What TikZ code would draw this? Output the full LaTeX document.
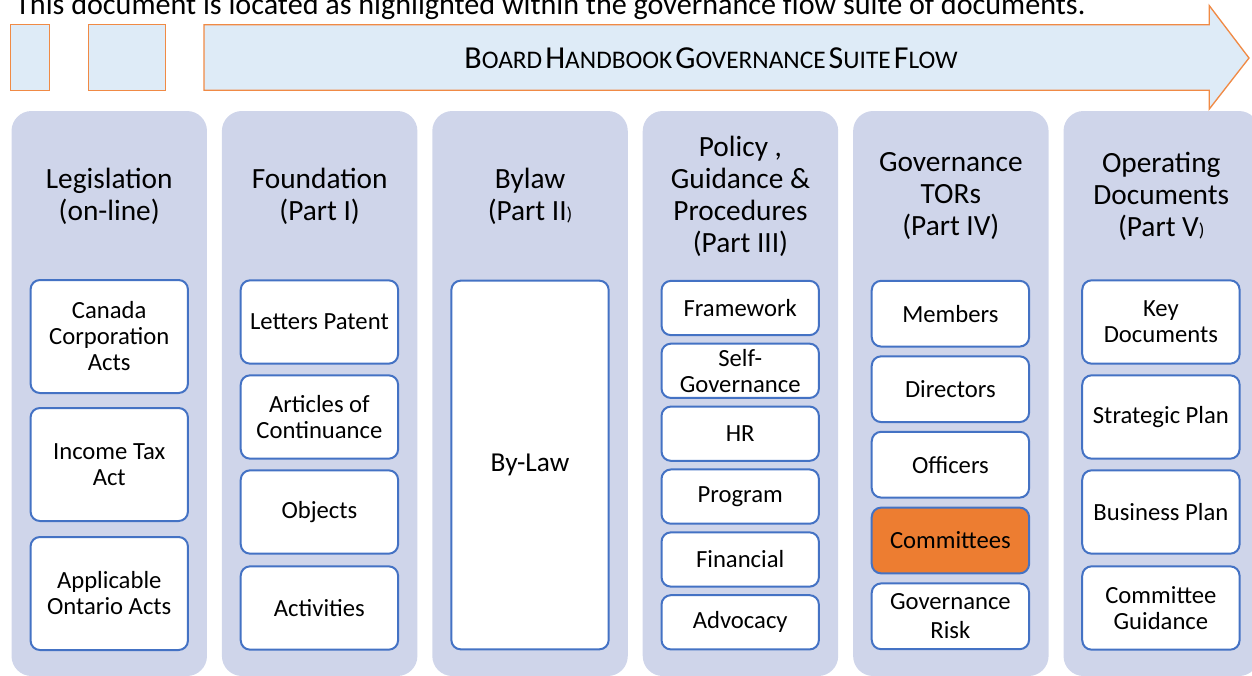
\documentclass[tikz,border=0pt]{standalone}
\usepackage{fontspec}
\setmainfont{Carlito}
\definecolor{colfill}{HTML}{CFD5EA}
\definecolor{itemblue}{HTML}{4472C4}
\definecolor{hiorange}{HTML}{ED7D31}
\definecolor{bannerfill}{HTML}{DEEBF7}
\definecolor{bannerline}{HTML}{F08A45}
\newcommand\fakesc[2]{{\fontsize{24}{28}\selectfont #1}{\fontsize{19}{28}\selectfont #2}}
\newcommand\smallparen{{\fontsize{14}{24}\selectfont )}}
\begin{document}
\begin{tikzpicture}[x=0.75pt,y=-0.75pt,
  colbg/.style={fill=colfill, draw=none, rounded corners=15pt, inner sep=0pt, minimum width=146.6pt, minimum height=423.75pt},
  hdr/.style={align=center, font=\fontsize{22}{24}\selectfont, inner sep=0pt},
  item/.style={draw=itemblue, line width=1.5pt, fill=white, rounded corners=7pt, align=center,
     font=\fontsize{18.5}{19.5}\selectfont, inner sep=0pt, minimum width=118pt},
  topbox/.style={fill=bannerfill, draw=bannerline, line width=1pt}
]
\useasboundingbox (0,0) rectangle (1252,675);

% intro text
\node[anchor=base west, inner sep=0pt, font=\fontsize{22.6}{26}\selectfont] (intro) at (15,14.5)
  {This document is located as highlighted within the governance flow suite of documents.};

% banner
\draw[topbox] (10.7,24.7) rectangle (49.7,90.3);
\draw[topbox] (88.3,24.7) rectangle (165.7,90.3);
\draw[topbox] (204,24.7) -- (1209.3,24.7) -- (1209.3,5.7) -- (1249,58) -- (1209.3,109) -- (1209.3,90.3) -- (204,90.3) -- cycle;
\node[inner sep=0pt] (banner) at (711,58)
  {\fakesc{B}{OARD} \fakesc{H}{ANDBOOK} \fakesc{G}{OVERNANCE} \fakesc{S}{UITE} \fakesc{F}{LOW}};

% columns
\node[colbg] (col1) at (109.25,393.5) {};
\node[colbg] (col2) at (319.65,393.5) {};
\node[colbg] (col3) at (530.05,393.5) {};
\node[colbg] (col4) at (740.45,393.5) {};
\node[colbg] (col5) at (950.85,393.5) {};
\node[colbg] (col6) at (1161.25,393.5) {};

% headers
\node[hdr] (h1) at (109.25,196) {Legislation\\(on-line)};
\node[hdr] (h2) at (319.65,196) {Foundation\\(Part I)};
\node[hdr] (h3) at (530.05,196) {Bylaw\\(Part II\smallparen};
\node[hdr] (h4) at (740.45,196.5) {Policy ,\\Guidance \&\\Procedures\\(Part III)};
\node[hdr] (h5) at (950.85,196) {Governance\\TORs\\(Part IV)};
\node[hdr] (h6) at (1161.25,196) {Operating\\Documents\\(Part V\smallparen};

% column 1
\node[item, minimum height=84.75pt] (a1) at (109.25,336.5) {Canada\\Corporation\\Acts};
\node[item, minimum height=84.75pt] (a2) at (109.25,464.5) {Income Tax\\Act};
\node[item, minimum height=84.75pt] (a3) at (109.25,593.5) {Applicable\\Ontario Acts};

% column 2
\node[item, minimum height=62.5pt] (b1) at (319.4,322) {Letters Patent};
\node[item, minimum height=62.5pt] (b2) at (319.4,417) {Articles of\\Continuance};
\node[item, minimum height=62.5pt] (b3) at (319.4,512) {Objects};
\node[item, minimum height=62.5pt] (b4) at (319.4,608) {Activities};

% column 3
\node[item, minimum height=276.5pt, font=\fontsize{20.5}{24}\selectfont] (c1) at (530,465) {By-Law};

% column 4
\node[item, minimum height=40.7pt] (d1) at (740.2,308) {Framework};
\node[item, minimum height=40.7pt] (d2) at (740.2,370.8) {Self-\\Governance};
\node[item, minimum height=40.7pt] (d3) at (740.2,433.7) {HR};
\node[item, minimum height=40.7pt] (d4) at (740.2,496.6) {Program};
\node[item, minimum height=40.7pt] (d5) at (740.2,559.5) {Financial};
\node[item, minimum height=40.7pt] (d6) at (740.2,622.3) {Advocacy};

% column 5
\node[item, minimum height=49.3pt] (e1) at (950.4,313.7) {Members};
\node[item, minimum height=49.3pt] (e2) at (950.4,389.2) {Directors};
\node[item, minimum height=49.3pt] (e3) at (950.4,464.7) {Officers};
\node[item, minimum height=49.3pt, fill=hiorange] (e4) at (950.4,540.5) {Committees};
\node[item, minimum height=49.3pt, font=\fontsize{18.5}{21.5}\selectfont] (e5) at (950.4,616.3) {Governance\\Risk};

% column 6
\node[item, minimum height=62.5pt] (f1) at (1160.9,322) {Key\\Documents};
\node[item, minimum height=62.5pt] (f2) at (1160.9,417) {Strategic Plan};
\node[item, minimum height=62.5pt] (f3) at (1160.9,512) {Business Plan};
\node[item, minimum height=62.5pt] (f4) at (1160.9,608) {Committee\\Guidance};
\end{tikzpicture}
\end{document}
